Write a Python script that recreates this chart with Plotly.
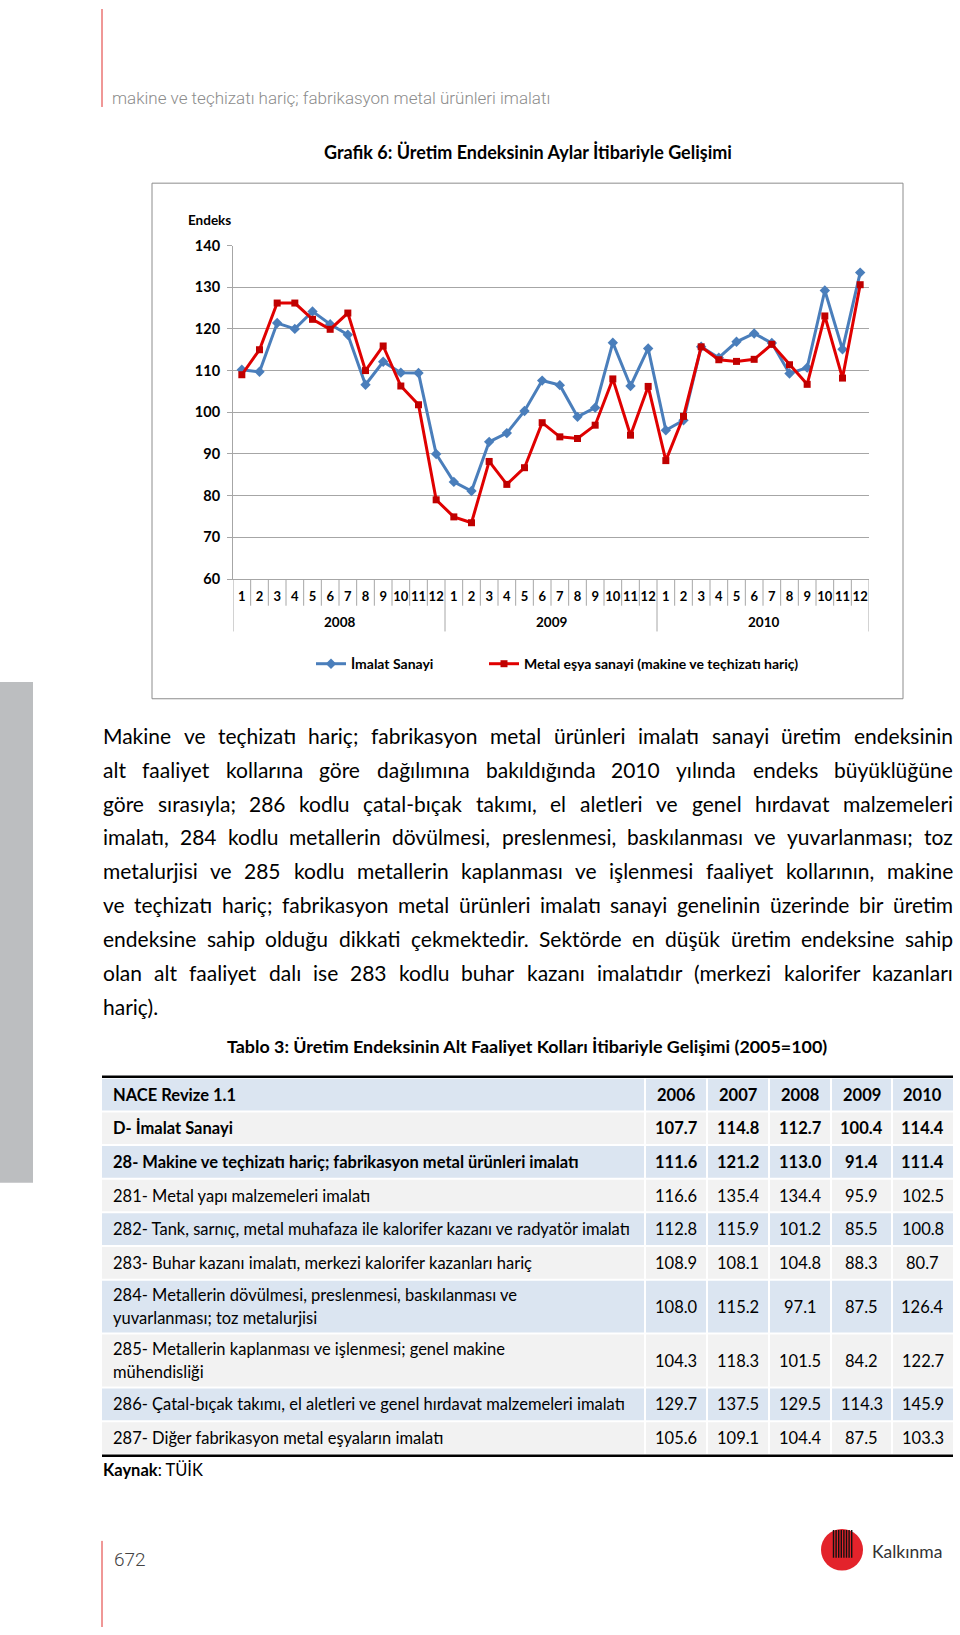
import subprocess
import plotly.graph_objects as go

# ---------------- data ----------------
months = [str(m) for m in range(1, 13)] * 3
years = ["2008", "2009", "2010"]
imalat_sanayi = [110.2, 109.7, 121.4, 120.0, 124.2, 121.1, 118.6, 106.6, 112.1, 109.5, 109.4, 90.0,
                 83.3, 81.1, 92.9, 95.0, 100.3, 107.6, 106.5, 98.9, 101.1, 116.7, 106.3, 115.3,
                 95.7, 98.1, 115.7, 113.1, 116.9, 118.9, 116.6, 109.3, 110.7, 129.2, 115.1, 133.5]
metal_esya = [109.0, 115.0, 126.2, 126.2, 122.3, 119.9, 123.8, 110.0, 115.9, 106.3, 101.8, 79.0,
              74.9, 73.5, 88.2, 82.7, 86.7, 97.5, 94.1, 93.7, 96.9, 108.0, 94.5, 106.2,
              88.4, 99.0, 115.7, 112.6, 112.2, 112.7, 116.3, 111.4, 106.7, 123.1, 108.2, 130.6]
y_ticks = [60, 70, 80, 90, 100, 110, 120, 130, 140]

table_header = ["NACE Revize 1.1", "2006", "2007", "2008", "2009", "2010"]
table_labels = [
    "D- İmalat Sanayi",
    "28- Makine ve teçhizatı hariç; fabrikasyon metal ürünleri imalatı",
    "281- Metal yapı malzemeleri imalatı",
    "282- Tank, sarnıç, metal muhafaza ile kalorifer kazanı ve radyatör imalatı",
    "283- Buhar kazanı imalatı, merkezi kalorifer kazanları hariç",
    "284- Metallerin dövülmesi, preslenmesi, baskılanması ve\nyuvarlanması; toz metalurjisi",
    "285- Metallerin kaplanması ve işlenmesi; genel makine\nmühendisliği",
    "286- Çatal-bıçak takımı, el aletleri ve genel hırdavat malzemeleri imalatı",
    "287- Diğer fabrikasyon metal eşyaların imalatı",
]
table_values = [
    [107.7, 114.8, 112.7, 100.4, 114.4],
    [111.6, 121.2, 113.0, 91.4, 111.4],
    [116.6, 135.4, 134.4, 95.9, 102.5],
    [112.8, 115.9, 101.2, 85.5, 100.8],
    [108.9, 108.1, 104.8, 88.3, 80.7],
    [108.0, 115.2, 97.1, 87.5, 126.4],
    [104.3, 118.3, 101.5, 84.2, 122.7],
    [129.7, 137.5, 129.5, 114.3, 145.9],
    [105.6, 109.1, 104.4, 87.5, 103.3],
]
table_bold_rows = [0, 1]

paragraph_lines = [
    "Makine ve teçhizatı hariç; fabrikasyon metal ürünleri imalatı sanayi üretim endeksinin",
    "alt faaliyet kollarına göre dağılımına bakıldığında 2010 yılında endeks büyüklüğüne",
    "göre sırasıyla; 286 kodlu çatal-bıçak takımı, el aletleri ve genel hırdavat malzemeleri",
    "imalatı, 284 kodlu metallerin dövülmesi, preslenmesi, baskılanması ve yuvarlanması; toz",
    "metalurjisi ve 285 kodlu metallerin kaplanması ve işlenmesi faaliyet kollarının, makine",
    "ve teçhizatı hariç; fabrikasyon metal ürünleri imalatı sanayi genelinin üzerinde bir üretim",
    "endeksine sahip olduğu dikkati çekmektedir. Sektörde en düşük üretim endeksine sahip",
    "olan alt faaliyet dalı ise 283 kodlu buhar kazanı imalatıdır (merkezi kalorifer kazanları",
    "hariç).",
]

# ---------------- text measuring (optional) ----------------
FONT = "Lato"
try:
    from PIL import ImageFont

    def _ff(pattern):
        r = subprocess.run(["fc-match", "-f", "%{file}", pattern],
                           capture_output=True, text=True, timeout=10)
        return r.stdout.strip()

    _files = {False: _ff("Lato:style=Regular"), True: _ff("Lato:style=Bold")}
    _cache = {}

    def text_width(s, size, bold=False):
        if bold not in _cache:
            _cache[bold] = ImageFont.truetype(_files[bold], size=200)
        return _cache[bold].getlength(s) * size / 200.0

    text_width("test", 10)
    HAVE_MEASURE = True
except Exception:
    HAVE_MEASURE = False


def fit(text, target, bold=False, fallback=16.0):
    if not HAVE_MEASURE:
        return fallback
    return 20.0 * target / text_width(text, 20, bold)


# ---------------- figure ----------------
W, H = 960, 1635


def px(x):
    return x / W


def py(y):
    return 1 - y / H


fig = go.Figure()
xs = list(range(len(months)))
fig.add_trace(go.Scatter(
    x=xs, y=imalat_sanayi, mode="lines+markers", name="İmalat Sanayi",
    line=dict(color="#4a7ebb", width=3),
    marker=dict(symbol="diamond", size=8, color="#4a7ebb"),
    legend="legend",
))
fig.add_trace(go.Scatter(
    x=xs, y=metal_esya, mode="lines+markers",
    name="Metal eşya sanayi (makine ve teçhizatı hariç)",
    line=dict(color="#e00000", width=3),
    marker=dict(symbol="square", size=7, color="#c00000"),
    legend="legend2",
))

GRID = "#a6a6a6"
plot_l, plot_r, plot_t, plot_b = 233, 869, 239, 576
leg_font = dict(family=FONT, size=14, weight="bold")
fig.update_layout(
    width=W, height=H, margin=dict(l=0, r=0, t=0, b=0),
    paper_bgcolor="white", plot_bgcolor="white",
    font=dict(family=FONT, color="black"),
    xaxis=dict(domain=[px(plot_l), px(plot_r)], range=[-0.5, len(months) - 0.5],
               tickvals=xs, ticktext=months, ticks="", showgrid=False,
               showline=True, linecolor=GRID, linewidth=1, zeroline=False,
               tickfont=dict(family=FONT, size=13, weight="bold"),
               ticklabelstandoff=5, fixedrange=True),
    yaxis=dict(domain=[py(plot_b), py(plot_t)], range=[60, 140],
               tickvals=y_ticks, showgrid=True, gridcolor=GRID, gridwidth=1,
               showline=True, linecolor=GRID, linewidth=1, zeroline=False,
               ticks="outside", ticklen=5, tickcolor=GRID,
               tickfont=dict(family=FONT, size=14.5, weight="bold"),
               ticklabelstandoff=4, fixedrange=True),
    showlegend=True,
    legend=dict(orientation="h", x=px(311), y=py(662), xanchor="left", yanchor="middle",
                font=leg_font, itemwidth=30, bgcolor="rgba(0,0,0,0)"),
    legend2=dict(orientation="h", x=px(484), y=py(662), xanchor="left", yanchor="middle",
                 font=leg_font, itemwidth=30, bgcolor="rgba(0,0,0,0)"),
)

shapes = []
anns = []


def rect(x0, y0, x1, y1, fill=None, line=None, lw=0):
    shapes.append(dict(type="rect", xref="paper", yref="paper",
                       x0=px(x0), x1=px(x1), y0=py(y0), y1=py(y1),
                       fillcolor=fill or "rgba(0,0,0,0)",
                       line=dict(color=line or "rgba(0,0,0,0)", width=lw), layer="below"))


def hline(x0, x1, y, color, width):
    shapes.append(dict(type="line", xref="paper", yref="paper",
                       x0=px(x0), x1=px(x1), y0=py(y), y1=py(y),
                       line=dict(color=color, width=width)))


def vline(x, y0, y1, color, width):
    shapes.append(dict(type="line", xref="paper", yref="paper",
                       x0=px(x), x1=px(x), y0=py(y0), y1=py(y1),
                       line=dict(color=color, width=width)))


def text(x, y, s, size, bold=False, anchor="left", color="black", family=FONT, weight=None):
    anns.append(dict(xref="paper", yref="paper", x=px(x), y=py(y), text=s,
                     showarrow=False, xanchor=anchor, yanchor="middle",
                     font=dict(family=family, size=size, color=color,
                               weight=weight if weight is not None else ("bold" if bold else "normal"))))


# page decorations
vline(102, 0, 99, "#e0312f", 1)
vline(102, 1548, 1635, "#e0312f", 1)
rect(0, 680, 33, 1186, fill="#bcbec0")
text(110, 90, "makine ve teçhizatı hariç; fabrikasyon metal ürünleri imalatı", 17,
     color="#8c8c8c", family="Roboto", weight=300)

title = "Grafik 6: Üretim Endeksinin Aylar İtibariyle Gelişimi"
text(528, 145, title, min(18, fit(title, 408, True, 16.5)), bold=True, anchor="center")

# chart frame
rect(152, 176, 903, 697, line="#8c8c8c", lw=1)
text(186, 213, "Endeks", 13.5, bold=True)

# category separators below the axis
for i in range(len(months) + 1):
    bottom = 629 if i % 12 == 0 else 603
    shapes.append(dict(type="line", xref="x", yref="paper", x0=i - 0.5, x1=i - 0.5,
                       y0=py(plot_b), y1=py(bottom), line=dict(color=GRID, width=1)))
for k, yr in enumerate(years):
    anns.append(dict(xref="x", yref="paper", x=k * 12 + 5.5, y=py(619), text=yr,
                     showarrow=False, xanchor="center", yanchor="middle",
                     font=dict(family=FONT, size=13.5, weight="bold")))

# paragraph (justified)
para_x0, para_x1, para_y0, para_dy = 102, 952, 734, 34.2
if HAVE_MEASURE:
    nat = max(text_width(l, 20) for l in paragraph_lines[:-1])
    pfs = min(21.0, 20.0 * (para_x1 - para_x0) / nat)
    for i, line in enumerate(paragraph_lines):
        yy = para_y0 + i * para_dy
        words = line.split(" ")
        if i == len(paragraph_lines) - 1 or len(words) == 1:
            text(para_x0 - 1, yy, line, pfs)
            continue
        ws = [text_width(w, pfs) for w in words]
        gap = (para_x1 - para_x0 - sum(ws)) / (len(words) - 1)
        xx = para_x0
        for w, ww in zip(words, ws):
            text(xx - 1, yy, w, pfs)
            xx += ww + gap
else:
    for i, line in enumerate(paragraph_lines):
        text(para_x0, para_y0 + i * para_dy, line, 18)

# table
tt = "Tablo 3: Üretim Endeksinin Alt Faaliyet Kolları İtibariyle Gelişimi (2005=100)"
text(527, 1048, tt, min(18, fit(tt, 601, True, 16.5)), bold=True, anchor="center")

tab_l, tab_r = 102, 953
col_edges = [tab_l, 645, 707, 769, 831, 892, tab_r]
base_fs = min(16.5, fit(table_labels[4], 452, False, 15.5))
row_fill = ["#dbe5f1", "#f2f2f2"]
y = 1080
hline(tab_l, tab_r, 1079, "black", 2.5)
rows = [(table_header[0], table_header[1:], True)] + [
    (lab, [f"{v:.1f}" for v in vals], i in table_bold_rows)
    for i, (lab, vals) in enumerate(zip(table_labels, table_values))]
for r, (lab, vals, bold) in enumerate(rows):
    lines = lab.split("\n")
    h = 34 if len(lines) == 1 else 54.5
    fill = row_fill[r % 2]
    for c in range(len(col_edges) - 1):
        rect(col_edges[c] + (0 if c == 0 else 1), y + 1,
             col_edges[c + 1] - (0 if c == len(col_edges) - 2 else 1), y + h - 1, fill=fill)
    cy = y + h / 2
    for j, ln in enumerate(lines):
        fs = base_fs
        if HAVE_MEASURE:
            fs = min(base_fs, fit(ln, 524, bold, base_fs))
        ly = cy if len(lines) == 1 else cy - 11.5 + 23 * j
        text(111, ly, ln, fs, bold=bold)
    for c, v in enumerate(vals):
        text((col_edges[c + 1] + col_edges[c + 2]) / 2, cy, v, base_fs, bold=bold, anchor="center")
    y += h
hline(tab_l, tab_r, y + 1, "black", 2.5)
text(101, 1476, "<b>Kaynak</b>: TÜİK", base_fs)

# footer
text(112, 1567, "672", 19, color="#444444", family="Roboto", weight=300)
shapes.append(dict(type="circle", xref="paper", yref="paper",
                   x0=px(821), x1=px(863), y0=py(1536), y1=py(1578),
                   fillcolor="#e3232b", line=dict(width=0)))
rect(832, 1537, 853, 1566, fill="white")
for k in range(8):
    vline(833.5 + k * 2.6, 1537, 1565, "#111111", 1.4)
text(870, 1559, "Kalkınma", 17.5, color="#333333")

fig.update_layout(shapes=shapes, annotations=anns)
fig.write_html("out.html")
